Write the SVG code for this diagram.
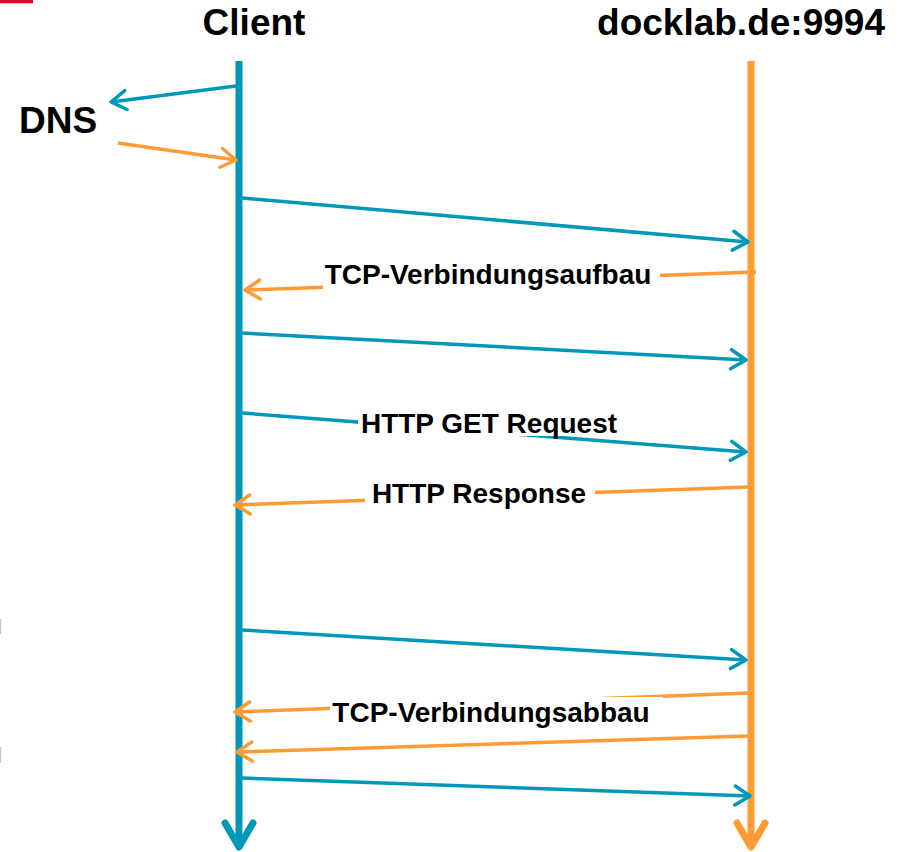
<svg xmlns="http://www.w3.org/2000/svg" width="903" height="852" viewBox="0 0 903 852">
<style>
.hdr{font-family:"Liberation Sans",Arial,sans-serif;font-weight:bold;font-size:37px;fill:#000}
.lbl{font-family:"Liberation Sans",Arial,sans-serif;font-weight:bold;font-size:28px;fill:#000;text-anchor:middle}
.t{stroke:#0098B8;stroke-width:3.5;fill:none}
.o{stroke:#FF9A35;stroke-width:3.5;fill:none}
.lt{stroke:#0098B8;stroke-width:7;fill:none}
.lo{stroke:#FF9A35;stroke-width:7;fill:none}
.bg{fill:#fff}
</style>
<defs>
<marker id="ah-t" markerUnits="userSpaceOnUse" markerWidth="22" markerHeight="24" refX="17" refY="11" orient="auto" overflow="visible">
<path d="M2,1.5 L17,11 L2,20.5" fill="none" stroke="#0098B8" stroke-width="3.5" stroke-linecap="round" stroke-linejoin="round"/>
</marker>
<marker id="ah-o" markerUnits="userSpaceOnUse" markerWidth="22" markerHeight="24" refX="17" refY="11" orient="auto" overflow="visible">
<path d="M2,1.5 L17,11 L2,20.5" fill="none" stroke="#FF9A35" stroke-width="3.5" stroke-linecap="round" stroke-linejoin="round"/>
</marker>
</defs>
<rect x="0" y="0" width="33" height="3.3" fill="#E4002B"/>
<rect x="0" y="619" width="1.2" height="15" fill="#c4c4c4"/>
<rect x="0" y="747" width="1.2" height="16" fill="#c4c4c4"/>
<g id="client">
<text class="hdr" x="254" y="35" text-anchor="middle">Client</text>
<line class="lt" x1="239" y1="61" x2="239" y2="846"/>
<polyline class="lt" points="225,823 239,847 253,823" stroke-linecap="round" stroke-linejoin="round"/>
</g>
<g id="server">
<text class="hdr" x="741" y="35" text-anchor="middle">docklab.de:9994</text>
<line class="lo" x1="751" y1="61" x2="751" y2="846"/>
<polyline class="lo" points="737,823 751,847 765,823" stroke-linecap="round" stroke-linejoin="round"/>
</g>
<g id="dns">
<text class="hdr" x="58" y="133" text-anchor="middle">DNS</text>
</g>
<g id="connectors">
<line class="t" x1="236" y1="86" x2="111" y2="102" marker-end="url(#ah-t)"/>
<line class="o" x1="118" y1="143" x2="236" y2="160" marker-end="url(#ah-o)"/>
<line class="t" x1="242" y1="198" x2="748" y2="242" marker-end="url(#ah-t)"/>
<line class="o" x1="756" y1="272" x2="245" y2="290" marker-end="url(#ah-o)"/>
<rect class="bg" x="323" y="261" width="337" height="34"/>
<text class="lbl" x="488" y="284">TCP-Verbindungsaufbau</text>
<line class="t" x1="242" y1="333" x2="746" y2="360" marker-end="url(#ah-t)"/>
<line class="t" x1="242" y1="413" x2="746" y2="452" marker-end="url(#ah-t)"/>
<rect class="bg" x="358" y="409" width="262" height="27"/>
<text class="lbl" x="489" y="433">HTTP GET Request</text>
<line class="o" x1="749" y1="487" x2="235" y2="505" marker-end="url(#ah-o)"/>
<rect class="bg" x="365" y="478" width="230" height="34"/>
<text class="lbl" x="479" y="503">HTTP Response</text>
<line class="t" x1="242" y1="630" x2="746" y2="660" marker-end="url(#ah-t)"/>
<line class="o" x1="749" y1="693" x2="235" y2="712" marker-end="url(#ah-o)"/>
<rect class="bg" x="330" y="697" width="333" height="34"/>
<text class="lbl" x="491" y="722">TCP-Verbindungsabbau</text>
<line class="o" x1="749" y1="736" x2="237" y2="752" marker-end="url(#ah-o)"/>
<line class="t" x1="242" y1="778" x2="750" y2="796" marker-end="url(#ah-t)"/>
</g>
</svg>
